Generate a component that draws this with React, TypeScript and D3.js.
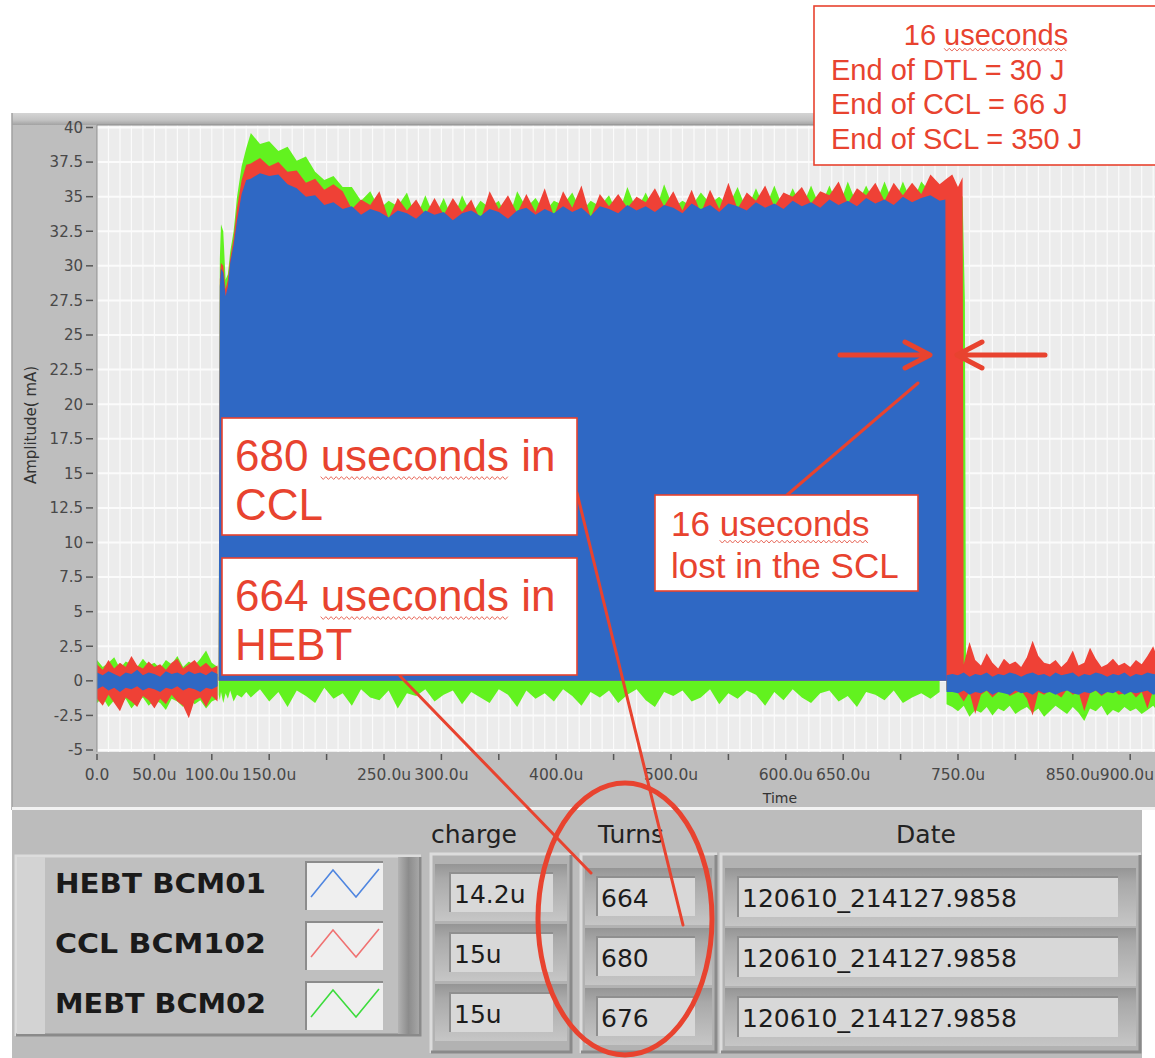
import { useEffect, useRef } from "react";
import * as d3 from "d3";

// axis
const Y_TICKS = [-5, -2.5, 0, 2.5, 5, 7.5, 10, 12.5, 15, 17.5, 20, 22.5, 25, 27.5, 30, 32.5, 35, 37.5, 40];
const X_TICKS = [0, 50, 100, 150, 200, 250, 300, 350, 400, 450, 500, 550, 600, 650, 700, 750, 800, 850, 900];
const X_TICK_LABELS = ["0.0", "50.0u", "100.0u", "150.0u", "", "250.0u", "300.0u", "", "400.0u", "", "500.0u", "", "600.0u", "650.0u", "", "750.0u", "", "850.0u", "900.0u"];

// sample times (us)
const PRE_T = d3.range(0, 106, 5);
const RISE_T = [106, 107, 108, 110, 112, 114, 116, 119, 122, 126, 130];
const PULSE_T = d3.range(134, 735, 8);
const POST_T = d3.range(740, 926, 5);

// baseline noise before the pulse (mA)
const BLUE_PRE_HI = [0.6, 0.4, 0.7, 0.5, 0.3, 0.6, 0.5, 0.8, 0.4, 0.6, 0.5, 0.3, 0.7, 0.5, 0.6, 0.4, 0.7, 0.5, 0.6, 0.4, 0.7, 0.5];
const BLUE_PRE_LO = [-0.6, -0.4, -0.7, -0.5, -0.8, -0.5, -0.6, -0.4, -0.7, -0.5, -0.6, -0.8, -0.5, -0.6, -0.4, -0.7, -0.5, -0.6, -0.8, -0.5, -0.6, -0.4];
const RED_PRE_HI = [1.2, 0.8, 1.5, 0.9, 1.3, 1.0, 1.8, 1.1, 0.9, 1.4, 1.0, 1.2, 0.8, 1.3, 1.6, 0.9, 1.2, 1.5, 1.0, 1.3, 0.9, 1.1];
const RED_PRE_LO = [-1.3, -1.8, -1.0, -1.6, -2.2, -1.2, -1.5, -1.9, -1.1, -1.4, -2.0, -1.3, -1.7, -1.0, -1.5, -1.8, -2.7, -1.4, -1.2, -1.9, -1.1, -1.5];
const GREEN_PRE_HI = [1.5, 1.0, 1.3, 1.7, 0.9, 1.4, 1.2, 1.0, 1.6, 1.1, 1.3, 0.9, 1.5, 1.2, 1.8, 1.0, 1.4, 1.1, 1.6, 2.2, 1.3, 1.0];
const GREEN_PRE_LO = [-1.6, -1.2, -1.9, -1.4, -1.7, -1.3, -2.0, -1.5, -1.2, -1.8, -1.4, -1.6, -2.1, -1.3, -1.5, -1.9, -1.2, -1.7, -1.4, -2.0, -1.5, -1.3];

// leading edge of the pulse
const BLUE_RISE = [0.5, 28.5, 29.8, 29.5, 27.8, 28.5, 30.2, 31.5, 33.3, 35.2, 36.2];
const RED_RISE = [0.8, 29.0, 30.2, 30.0, 28.3, 29.0, 30.5, 32.0, 34.2, 36.2, 37.3];
const GREEN_RISE = [1.0, 30.5, 33.0, 32.5, 29.0, 29.4, 31.0, 32.5, 35.0, 37.2, 38.5];
const GREEN_RISE_FLOOR = [-1.0, -1.4, -0.8, -1.6, -0.9, -1.3, -0.7, -1.5, -1.0, -1.2, -0.8];

// pulse top
const BLUE_TOP = [
  36.3, 36.7, 36.5, 36.6, 35.9, 35.6, 35.0, 35.1, 34.4, 34.6,
  34.1, 34.3, 33.7, 34.1, 33.9, 33.5, 34.0, 33.8, 33.4, 34.0,
  33.7, 33.9, 33.3, 33.8, 34.0, 33.6, 34.1, 33.9, 33.4, 34.0,
  34.2, 33.7, 34.1, 33.8, 34.3, 33.9, 34.2, 33.6, 34.3, 34.1,
  33.8, 34.4, 34.0, 34.3, 33.9, 34.4, 34.2, 33.8, 34.5, 34.1,
  34.4, 33.9, 34.5, 34.3, 34.0, 34.6, 34.2, 34.5, 34.1, 34.7,
  34.3, 34.6, 34.2, 34.8, 34.4, 34.7, 34.3, 34.9, 34.5, 34.8,
  34.4, 35.0, 34.6, 34.9, 35.1, 34.7,
];
const RED_TOP = [
  37.4, 37.8, 37.2, 37.5, 36.8, 36.9, 36.0, 36.3, 35.5, 35.9,
  35.4, 34.1, 34.8, 34.4, 35.4, 33.4, 34.9, 34.0, 34.8, 33.7,
  34.9, 33.7, 34.9, 33.9, 34.8, 33.3, 35.4, 34.1, 35.1, 33.8,
  35.2, 33.9, 35.6, 33.6, 35.4, 34.2, 35.8, 33.5, 35.2, 34.3,
  35.2, 34.2, 35.0, 34.6, 35.6, 34.3, 35.4, 34.0, 35.5, 33.8,
  35.5, 34.1, 36.0, 34.1, 35.3, 34.7, 35.8, 34.3, 35.3, 35.0,
  35.7, 34.5, 35.4, 35.1, 36.1, 34.5, 35.6, 35.1, 36.0, 34.7,
  36.0, 35.1, 36.0, 35.2, 36.6, 35.9,
];
const GREEN_TOP = [
  39.6, 38.8, 39.0, 38.3, 38.6, 37.6, 37.9, 36.8, 36.2, 36.5,
  35.7, 35.7, 34.7, 35.4, 34.1, 34.7, 34.3, 35.3, 33.4, 35.1,
  33.5, 34.9, 33.3, 35.1, 33.7, 34.7, 34.2, 34.7, 33.2, 35.4,
  34.2, 34.9, 33.9, 34.7, 34.4, 35.3, 33.9, 34.7, 34.3, 35.1,
  33.6, 35.7, 34.0, 35.3, 33.8, 35.9, 34.2, 34.7, 34.3, 35.3,
  34.5, 35.0, 34.3, 35.7, 34.0, 35.6, 34.1, 35.8, 34.1, 35.6,
  34.2, 35.8, 34.2, 35.8, 34.2, 36.1, 34.4, 35.8, 34.4, 36.1,
  34.4, 36.1, 34.5, 36.1, 35.3, 35.7,
];
// green dips below zero during the pulse
const GREEN_FLOOR = [
  -1.2, -0.6, -1.5, -0.8, -1.9, -0.7, -1.1, -1.6, -0.5, -1.3,
  -0.9, -1.8, -0.6, -1.2, -1.4, -0.7, -2.0, -0.9, -1.1, -0.6,
  -1.5, -1.0, -0.7, -1.7, -0.8, -1.2, -1.6, -0.6, -1.0, -1.9,
  -0.7, -1.3, -0.9, -1.5, -0.6, -1.1, -1.8, -0.8, -1.2, -0.7,
  -1.6, -1.0, -0.6, -1.4, -1.9, -0.8, -1.1, -0.7, -1.5, -1.2,
  -0.6, -1.7, -0.9, -1.3, -0.7, -1.0, -1.8, -0.8, -1.4, -0.6,
  -1.2, -1.6, -0.9, -0.7, -1.5, -1.1, -1.9, -0.8, -1.0, -1.4,
  -0.7, -1.6, -1.2, -0.9, -1.3, -0.8,
];

// trailing edges (HEBT stops 16 us early)
const BLUE_TAIL_T = [739, 740];
const BLUE_TAIL = [34.8, 0.3];
const RED_TAIL_T = [740, 745, 750, 754, 755];
const RED_TAIL = [36.3, 36.6, 35.7, 36.4, 0.5];
const GREEN_TAIL_T = [740, 745, 750, 754, 756, 757];
const GREEN_TAIL = [36.1, 35.8, 35.4, 35.0, 27.5, 0.3];

// baseline noise after the pulse
const BLUE_POST_HI = [0.4, 0.5, 0.4, 0.6, 0.3, 0.5, 0.4, 0.6, 0.3, 0.5, 0.4, 0.6, 0.5, 0.3, 0.5, 0.6, 0.4, 0.5, 0.3, 0.6, 0.4, 0.5, 0.6, 0.3, 0.5, 0.4, 0.6, 0.5, 0.3, 0.5, 0.4, 0.6, 0.3, 0.5, 0.4, 0.6, 0.5, 0.4];
const BLUE_POST_LO = [-0.8, -0.8, -0.9, -0.7, -1.0, -0.8, -0.9, -0.7, -1.0, -0.8, -0.9, -1.0, -0.7, -0.9, -0.8, -1.0, -0.7, -0.9, -0.8, -1.0, -0.8, -0.7, -0.9, -1.0, -0.8, -0.9, -0.7, -1.0, -0.8, -0.9, -0.7, -1.0, -0.8, -0.9, -0.8, -0.7, -1.0, -0.9];
const RED_POST_HI = [1.1, 1.0, 1.4, 1.2, 2.8, 1.5, 1.1, 2.0, 1.3, 0.9, 1.6, 1.2, 1.4, 1.0, 1.7, 2.9, 1.8, 1.3, 1.2, 1.5, 1.0, 1.4, 2.2, 1.1, 1.3, 2.4, 1.6, 1.0, 1.2, 1.6, 1.1, 1.3, 1.0, 1.5, 1.2, 1.8, 2.5, 1.4];
const RED_POST_LO = [-0.7, -0.6, -0.9, -1.5, -0.8, -2.4, -1.0, -0.7, -1.2, -0.8, -0.6, -1.1, -0.9, -0.7, -1.3, -2.5, -0.8, -1.0, -0.7, -0.9, -1.2, -0.6, -1.0, -0.8, -2.2, -0.9, -0.7, -1.1, -0.8, -0.6, -1.0, -0.9, -0.7, -1.2, -0.8, -2.0, -0.7, -0.9];
const GREEN_POST_HI = [0.2, 0.3, 0.1, 0.4, 0.2, 0.0, 0.3, 0.2, 0.4, 0.1, 0.3, 0.2, 0.0, 0.3, 0.4, 0.2, 0.1, 0.3, 0.2, 0.4, 0.0, 0.2, 0.3, 0.1, 0.4, 0.2, 0.3, 0.0, 0.2, 0.4, 0.1, 0.3, 0.2, 0.0, 0.3, 0.2, 0.4, 0.1];
const GREEN_POST_LO = [-1.7, -1.9, -2.2, -1.8, -2.6, -2.1, -2.3, -1.9, -2.5, -2.0, -2.2, -1.8, -2.4, -2.1, -1.9, -2.3, -2.0, -2.6, -2.2, -1.8, -2.1, -2.4, -1.9, -2.3, -2.9, -2.0, -2.2, -1.8, -2.5, -2.1, -2.3, -1.9, -2.2, -2.0, -2.4, -2.1, -1.8, -2.3];

// front panel table
const CHANNELS = ["HEBT BCM01", "CCL BCM102", "MEBT BCM02"];
const CHANNEL_COLORS = ["#4f86e0", "#f07272", "#3ddc3d"];
const CHARGE = ["14.2u", "15u", "15u"];
const TURNS = ["664", "680", "676"];
const DATES = ["120610_214127.9858", "120610_214127.9858", "120610_214127.9858"];

const BLUE = "#2f68c4";
const RED = "#ef4136";
const GREEN = "#62f21f";
const NOTE = "#e8432f";
const UI_FONT = "'DejaVu Sans', sans-serif";
const NOTE_FONT = "'Liberation Sans', Arial, sans-serif";

type Pt = { t: number; lo: number; hi: number };

export default function App() {
  const svgRef = useRef<SVGSVGElement>(null);

  useEffect(() => {
    if (!svgRef.current) return;
    const svg = d3.select(svgRef.current);
    svg.selectAll("*").remove();

    const x = d3.scaleLinear().domain([0, 750]).range([97, 958]);
    const y = d3.scaleLinear().domain([-5, 40]).range([750, 127.5]);

    const defs = svg.append("defs");
    defs.append("clipPath").attr("id", "plotClip")
      .append("rect").attr("x", 97).attr("y", 125).attr("width", 1058).attr("height", 627);

    const grad = (id: string, stops: [number, string][], horizontal = false) => {
      const g = defs.append("linearGradient").attr("id", id)
        .attr("x1", 0).attr("y1", 0).attr("x2", horizontal ? 1 : 0).attr("y2", horizontal ? 0 : 1);
      stops.forEach(([o, c]) => g.append("stop").attr("offset", o).attr("stop-color", c));
    };
    grad("topBar", [[0, "#d4d4d4"], [0.6, "#c2c2c2"], [1, "#a2a2a2"]]);
    grad("frame", [[0, "#959595"], [0.25, "#a9a9a9"], [1, "#c6c6c6"]]);
    grad("rightBevel", [[0, "#b2b2b2"], [0.5, "#8c8c8c"], [1, "#a6a6a6"]], true);

    // graph panel
    svg.append("rect").attr("x", 12).attr("y", 113).attr("width", 1143).attr("height", 697).attr("fill", "#bebebe");
    svg.append("rect").attr("x", 12).attr("y", 113).attr("width", 1143).attr("height", 12).attr("fill", "url(#topBar)");
    svg.append("line").attr("x1", 12).attr("x2", 12).attr("y1", 113).attr("y2", 810).attr("stroke", "#a0a0a0").attr("stroke-width", 1.5);

    svg.append("rect").attr("x", 97).attr("y", 125).attr("width", 1058).attr("height", 627).attr("fill", "#ececec");

    const plot = svg.append("g").attr("clip-path", "url(#plotClip)");
    plot.selectAll("line.vg").data(d3.range(0, 930, 10)).enter().append("line")
      .attr("x1", (d) => x(d)).attr("x2", (d) => x(d)).attr("y1", 125).attr("y2", 752)
      .attr("stroke", "#fbfbfb").attr("stroke-width", 1.2);
    plot.selectAll("line.hg").data(Y_TICKS).enter().append("line")
      .attr("x1", 97).attr("x2", 1155).attr("y1", (d) => y(d)).attr("y2", (d) => y(d))
      .attr("stroke", "#fbfbfb").attr("stroke-width", 2);

    const area = d3.area<Pt>().x((d) => x(d.t)).y0((d) => y(d.lo)).y1((d) => y(d.hi));
    const band = (t: number[], lo: number[] | number, hi: number[] | number, color: string) => {
      const data: Pt[] = t.map((tt, i) => ({
        t: tt,
        lo: typeof lo === "number" ? lo : lo[i],
        hi: typeof hi === "number" ? hi : hi[i],
      }));
      plot.append("path").datum(data).attr("d", area).attr("fill", color);
    };
    const pulse = (rise: number[], top: number[], tailT: number[], tail: number[], color: string) => {
      band([...RISE_T, ...PULSE_T, ...tailT], 0, [...rise, ...top, ...tail], color);
    };

    // MEBT (green) underneath, CCL (red), HEBT (blue) on top
    band(PRE_T, GREEN_PRE_LO, GREEN_PRE_HI, GREEN);
    band(POST_T, GREEN_POST_LO, GREEN_POST_HI, GREEN);
    band([...RISE_T, ...PULSE_T], [...GREEN_RISE_FLOOR, ...GREEN_FLOOR], 0.3, GREEN);
    pulse(GREEN_RISE, GREEN_TOP, GREEN_TAIL_T, GREEN_TAIL, GREEN);

    band(PRE_T, RED_PRE_LO, RED_PRE_HI, RED);
    band(POST_T, RED_POST_LO, RED_POST_HI, RED);
    pulse(RED_RISE, RED_TOP, RED_TAIL_T, RED_TAIL, RED);

    band(PRE_T, BLUE_PRE_LO, BLUE_PRE_HI, BLUE);
    band(POST_T, BLUE_POST_LO, BLUE_POST_HI, BLUE);
    pulse(BLUE_RISE, BLUE_TOP, BLUE_TAIL_T, BLUE_TAIL, BLUE);

    svg.append("path").attr("d", "M97,752 V125 H1155").attr("fill", "none").attr("stroke", "#8e8e8e").attr("stroke-width", 1);

    // y axis
    const yAxis = svg.append("g");
    Y_TICKS.forEach((v) => {
      yAxis.append("line").attr("x1", 86).attr("x2", 93).attr("y1", y(v)).attr("y2", y(v))
        .attr("stroke", "#555").attr("stroke-width", 1.5);
      yAxis.append("text").attr("x", 83).attr("y", y(v)).attr("dy", "0.36em").attr("text-anchor", "end")
        .style("font-family", UI_FONT).style("font-size", "15px").style("fill", "#484848")
        .text(v % 1 === 0 ? String(v) : v.toFixed(1));
    });
    svg.append("text").attr("transform", "translate(36,425) rotate(-90)").attr("text-anchor", "middle")
      .style("font-family", UI_FONT).style("font-size", "15px").style("fill", "#333").text("Amplitude( mA)");

    // x axis
    const xAxis = svg.append("g");
    X_TICKS.forEach((t, i) => {
      const px = x(t);
      const atEdge = px + 28 > 1155;
      xAxis.append("line").attr("x1", px).attr("x2", px).attr("y1", 754).attr("y2", 760)
        .attr("stroke", "#555").attr("stroke-width", 1.5);
      xAxis.append("text").attr("x", atEdge ? 1154 : px).attr("y", 780).attr("text-anchor", atEdge ? "end" : "middle")
        .style("font-family", UI_FONT).style("font-size", "15.5px").style("fill", "#484848")
        .text(X_TICK_LABELS[i]);
    });
    svg.append("text").attr("x", 780).attr("y", 803).attr("text-anchor", "middle")
      .style("font-family", UI_FONT).style("font-size", "14px").style("fill", "#333").text("Time");

    // front panel below the graph
    svg.append("rect").attr("x", 12).attr("y", 807).attr("width", 1143).attr("height", 3).attr("fill", "#f2f2f2");
    svg.append("rect").attr("x", 12).attr("y", 810).attr("width", 1130).attr("height", 248).attr("fill", "#bcbcbc");

    const ui = svg.append("g");
    const block = (bx: number, by: number, bw: number, bh: number, fill: string) => {
      ui.append("rect").attr("x", bx).attr("y", by).attr("width", bw).attr("height", bh).attr("fill", fill);
      ui.append("path").attr("d", `M${bx + 1},${by + bh} V${by + 1} H${bx + bw}`)
        .attr("fill", "none").attr("stroke", "#dcdcdc").attr("stroke-width", 3);
      ui.append("path").attr("d", `M${bx + 1},${by + bh - 1} H${bx + bw - 1} V${by + 2}`)
        .attr("fill", "none").attr("stroke", "#8a8a8a").attr("stroke-width", 3);
    };
    const field = (bx: number, bw: number, fx: number, fy: number, fw: number, fh: number, label: string, base: number) => {
      ui.append("rect").attr("x", bx + 5).attr("y", fy - 9).attr("width", bw - 10).attr("height", fh + 18)
        .attr("fill", "url(#frame)");
      ui.append("rect").attr("x", fx).attr("y", fy).attr("width", fw).attr("height", fh).attr("fill", "#d8d8d8");
      ui.append("path").attr("d", `M${fx},${fy + fh} V${fy} H${fx + fw}`)
        .attr("fill", "none").attr("stroke", "#8f8f8f").attr("stroke-width", 2);
      ui.append("text").attr("x", fx + 4).attr("y", base)
        .style("font-family", UI_FONT).style("font-size", "25px").style("fill", "#1c1c1c").text(label);
    };

    // legend block
    block(15, 855, 406, 181, "#bfbfbf");
    ui.append("rect").attr("x", 17).attr("y", 857).attr("width", 28).attr("height", 177).attr("fill", "#d3d3d3");
    ui.append("rect").attr("x", 398).attr("y", 857).attr("width", 21).attr("height", 177).attr("fill", "url(#rightBevel)");
    CHANNELS.forEach((name, i) => {
      const top = 862 + i * 60;
      ui.append("text").attr("x", 55).attr("y", top + 31).attr("textLength", 211).attr("lengthAdjust", "spacingAndGlyphs")
        .style("font-family", UI_FONT).style("font-weight", "bold").style("font-size", "27px").style("fill", "#1a1a1a")
        .text(name);
      ui.append("rect").attr("x", 306).attr("y", top).attr("width", 77).attr("height", 48).attr("fill", "#efefef");
      ui.append("path").attr("d", `M306,${top + 48} V${top} H383`).attr("fill", "none").attr("stroke", "#8c8c8c").attr("stroke-width", 2);
      ui.append("path").attr("d", d3.line()([[311, top + 35], [333, top + 8], [356, top + 35], [379, top + 7]]))
        .attr("fill", "none").attr("stroke", CHANNEL_COLORS[i]).attr("stroke-width", 1.6);
    });

    // charge / turns / date
    const headers: [string, number][] = [["charge", 474], ["Turns", 631], ["Date", 926]];
    headers.forEach(([h, cx]) => {
      ui.append("text").attr("x", cx).attr("y", 843).attr("text-anchor", "middle")
        .style("font-family", UI_FONT).style("font-size", "25px").style("fill", "#222").text(h);
    });
    block(430, 853, 142, 200, "#b2b2b2");
    CHARGE.forEach((c, i) => field(430, 142, 450, 873 + i * 60, 103, 39, c, 903 + i * 60));
    block(580, 853, 137, 200, "#b2b2b2");
    TURNS.forEach((c, i) => field(580, 137, 597, 877 + i * 60, 98, 39, c, 907 + i * 60));
    block(720, 853, 421, 200, "#b2b2b2");
    DATES.forEach((c, i) => field(720, 421, 738, 877 + i * 60, 380, 40, c, 907 + i * 60));

    // annotations
    const notes = svg.append("g");
    const stroke = (sel: d3.Selection<SVGPathElement, unknown, null, undefined>, w: number) =>
      sel.attr("fill", "none").attr("stroke", NOTE).attr("stroke-width", w)
        .attr("stroke-linecap", "round").attr("stroke-linejoin", "round");

    stroke(notes.append("path").attr("d", "M400,676 L591,873"), 3);
    stroke(notes.append("path").attr("d", "M577,493 L683,925"), 3);
    stroke(notes.append("path").attr("d", "M787,495 L918,383"), 3);
    stroke(notes.append("path").attr("d", "M840,355 H928 M905,342 L930,355 L905,368"), 5);
    stroke(notes.append("path").attr("d", "M1045,355 H958 M982,342 L957,355 L982,368"), 5);
    notes.append("ellipse").attr("cx", 625).attr("cy", 919).attr("rx", 87).attr("ry", 136)
      .attr("fill", "none").attr("stroke", NOTE).attr("stroke-width", 5);

    const squiggle = (x1: number, x2: number, yy: number) => {
      const pts: [number, number][] = [];
      for (let k = 0, xx = x1; xx <= x2; k++, xx += 2.6) pts.push([xx, yy + (k % 2 ? 1.4 : -1.4)]);
      notes.append("path").attr("d", d3.line()(pts)).attr("fill", "none")
        .attr("stroke", "#e86a5c").attr("stroke-width", 1);
    };

    type Line = { x: number; y: number; parts: [string, boolean][]; anchor?: string };
    const box = (bx: number, by: number, bw: number, bh: number, size: number, lines: Line[]) => {
      notes.append("rect").attr("x", bx).attr("y", by).attr("width", bw).attr("height", bh)
        .attr("fill", "#fff").attr("stroke", NOTE).attr("stroke-width", 1.6);
      lines.forEach((ln) => {
        const t = notes.append("text").attr("x", ln.x).attr("y", ln.y).attr("text-anchor", ln.anchor ?? "start")
          .style("font-family", NOTE_FONT).style("font-size", `${size}px`).style("fill", NOTE);
        const marked: SVGTSpanElement[] = [];
        ln.parts.forEach(([s, m]) => {
          const sp = t.append("tspan").text(s);
          if (m) marked.push(sp.node() as SVGTSpanElement);
        });
        marked.forEach((n) => {
          const sx = n.getStartPositionOfChar(0).x;
          squiggle(sx, sx + n.getComputedTextLength(), ln.y + size * 0.16);
        });
      });
    };

    box(814, 6, 350, 159, 29, [
      { x: 986, y: 45, parts: [["16 ", false], ["useconds", true]], anchor: "middle" },
      { x: 831, y: 80, parts: [["End of DTL = 30 J", false]] },
      { x: 831, y: 114, parts: [["End of CCL = 66 J", false]] },
      { x: 831, y: 149, parts: [["End of SCL = 350 J", false]] },
    ]);
    box(222, 418, 355, 117, 44, [
      { x: 235, y: 471, parts: [["680 ", false], ["useconds", true], [" in", false]] },
      { x: 235, y: 520, parts: [["CCL", false]] },
    ]);
    box(222, 558, 355, 117, 44, [
      { x: 235, y: 611, parts: [["664 ", false], ["useconds", true], [" in", false]] },
      { x: 235, y: 660, parts: [["HEBT", false]] },
    ]);
    box(655, 495, 263, 96, 35, [
      { x: 671, y: 536, parts: [["16 ", false], ["useconds", true]] },
      { x: 671, y: 578, parts: [["lost in the SCL", false]] },
    ]);
  }, []);

  return (
    <div style={{ width: 1155, height: 1058, overflow: "hidden" }}>
      <style>{"body{margin:0}"}</style>
      <svg ref={svgRef} width={1155} height={1058} style={{ display: "block", background: "#fff" }} />
    </div>
  );
}
